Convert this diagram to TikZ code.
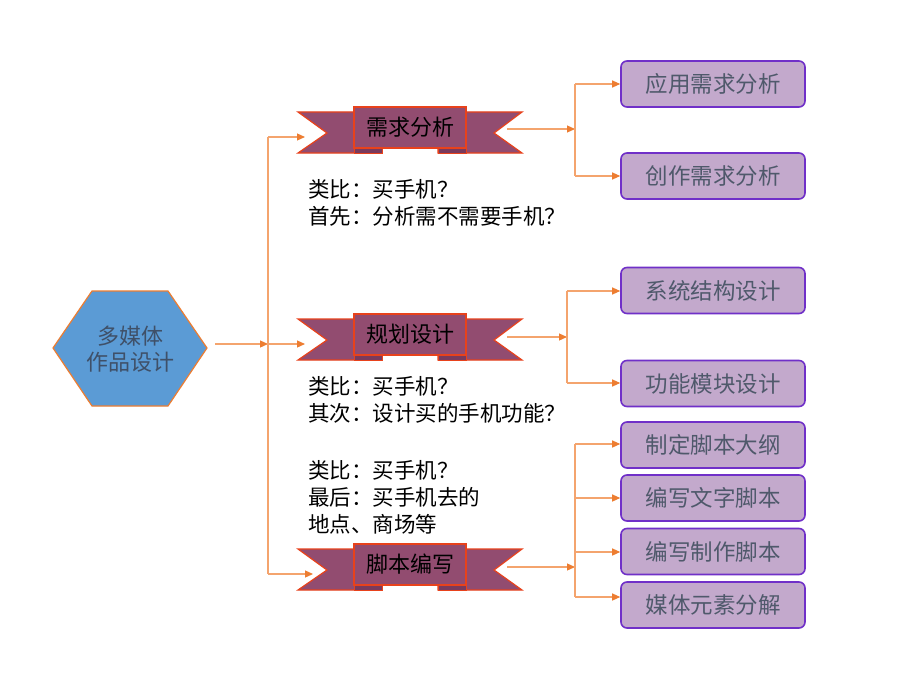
\documentclass[tikz,border=0pt]{standalone}
\usepackage{fontspec}
\setmainfont{Noto Sans CJK SC}
\usetikzlibrary{arrows.meta}
\definecolor{lineC}{HTML}{F4A46E}
\definecolor{tipC}{HTML}{ED7D31}
\definecolor{banC}{HTML}{924C70}
\definecolor{banD}{HTML}{7A3A5C}
\definecolor{banE}{HTML}{E8421C}
\definecolor{boxC}{HTML}{C3A9CC}
\definecolor{boxE}{HTML}{7030C8}
\definecolor{boxT}{HTML}{4F596B}
\definecolor{hexC}{HTML}{5B9BD5}
\definecolor{hexE}{HTML}{ED7D31}
\definecolor{hexT}{HTML}{3F5068}
\tikzset{
 conn/.style={draw=lineC, line width=1.2pt, -{Triangle[length=8pt,width=7pt,color=tipC]}},
 plain/.style={draw=lineC, line width=1.2pt},
 subbox/.style={draw=boxE, fill=boxC, line width=1.6pt, rounded corners=6pt, minimum width=184pt, minimum height=46pt, inner sep=0pt, font=\fontsize{22.5}{26}\selectfont, text=boxT},
 bancore/.style={draw=banE, fill=banC, line width=1.2pt, minimum width=112pt, minimum height=41pt, inner sep=0pt, font=\fontsize{22}{26}\selectfont, text=black},
 wing/.style={draw=banE, fill=banC, line width=1.2pt},
 tab/.style={draw=banE, fill=banD, line width=1pt},
 note/.style={anchor=west, inner sep=0pt, font=\fontsize{21.5}{26}\selectfont},
 hexshape/.style={draw=hexE, fill=hexC, line width=1.2pt}
}
\newcommand\ribbon[3]{%
 \draw[wing] (298,#2+5) -- (382,#2+5) -- (382,#2+46) -- (298,#2+46) -- (327,#2+26) -- cycle;
 \draw[wing] (522,#2+5) -- (438,#2+5) -- (438,#2+46) -- (522,#2+46) -- (494,#2+26) -- cycle;
 \draw[tab] (354,#2+41) rectangle (382,#2+46);
 \draw[tab] (438,#2+41) rectangle (466,#2+46);
 \node[bancore] (#1) at (410,#2+20.5) {#3};
}
\begin{document}
\begin{tikzpicture}[x=1pt,y=-1pt]
\useasboundingbox (0,0) rectangle (920,690);
\fill[white] (0,0) rectangle (920,690);

% hexagon
\draw[hexshape] (53,348) -- (92,291) -- (168,291) -- (207,348) -- (168,406) -- (92,406) -- cycle;
\node[align=center, text=hexT, font=\fontsize{22}{26}\selectfont, inner sep=0pt] (hex) at (130,349) {多媒体\\作品设计};

% ribbons
\ribbon{rA}{107}{需求分析}
\ribbon{rB}{314}{规划设计}
\ribbon{rC}{544}{脚本编写}

% notes
\node[note] (nA1) at (308,189) {类比：买手机？};
\node[note] (nA2) at (308,216) {首先：分析需不需要手机？};
\node[note] (nB1) at (308,386) {类比：买手机？};
\node[note] (nB2) at (308,413) {其次：设计买的手机功能？};
\node[note] (nC1) at (308,470) {类比：买手机？};
\node[note] (nC2) at (308,497) {最后：买手机去的};
\node[note] (nC3) at (308,524) {地点、商场等};

% sub boxes
\node[subbox] (s1) at (713,84) {应用需求分析};
\node[subbox] (s2) at (713,176) {创作需求分析};
\node[subbox] (s3) at (713,290.5) {系统结构设计};
\node[subbox] (s4) at (713,383.5) {功能模块设计};
\node[subbox] (s5) at (713,445) {制定脚本大纲};
\node[subbox] (s6) at (713,498) {编写文字脚本};
\node[subbox] (s7) at (713,551.5) {编写制作脚本};
\node[subbox] (s8) at (713,605) {媒体元素分解};

% coordinates
\coordinate (h0) at (215,344);
\coordinate (jA) at (268,137);
\coordinate (jB) at (268,344);
\coordinate (jC) at (268,574);
\coordinate (inA) at (305,137);
\coordinate (inB) at (305,344);
\coordinate (inC) at (313,574);
\coordinate (oA) at (507,129);
\coordinate (kA) at (575,129);
\coordinate (kA1) at (575,84);
\coordinate (kA2) at (575,176);
\coordinate (oB) at (507,337);
\coordinate (kB) at (567,337);
\coordinate (kB1) at (567,291);
\coordinate (kB2) at (567,383);
\coordinate (oC) at (507,567);
\coordinate (kC) at (575,567);
\coordinate (kC1) at (575,444);
\coordinate (kC2) at (575,498);
\coordinate (kC3) at (575,552);
\coordinate (kC4) at (575,597);

% left connectors
\draw[conn] (h0) -- (jB);
\draw[plain] (jA) -- (jC);
\draw[conn] (jA) -- (inA);
\draw[conn] (jB) -- (inB);
\draw[conn] (jC) -- (inC);

% right group A
\draw[conn] (oA) -- (kA);
\draw[plain] (kA1) -- (kA2);
\draw[conn] (kA1) -- (s1.west |- kA1);
\draw[conn] (kA2) -- (s2.west |- kA2);

% right group B
\draw[conn] (oB) -- (kB);
\draw[plain] (kB1) -- (kB2);
\draw[conn] (kB1) -- (s3.west |- kB1);
\draw[conn] (kB2) -- (s4.west |- kB2);

% right group C
\draw[conn] (oC) -- (kC);
\draw[plain] (kC1) -- (kC4);
\draw[conn] (kC1) -- (s5.west |- kC1);
\draw[conn] (kC2) -- (s6.west |- kC2);
\draw[conn] (kC3) -- (s7.west |- kC3);
\draw[conn] (kC4) -- (s8.west |- kC4);
\end{tikzpicture}
\end{document}
